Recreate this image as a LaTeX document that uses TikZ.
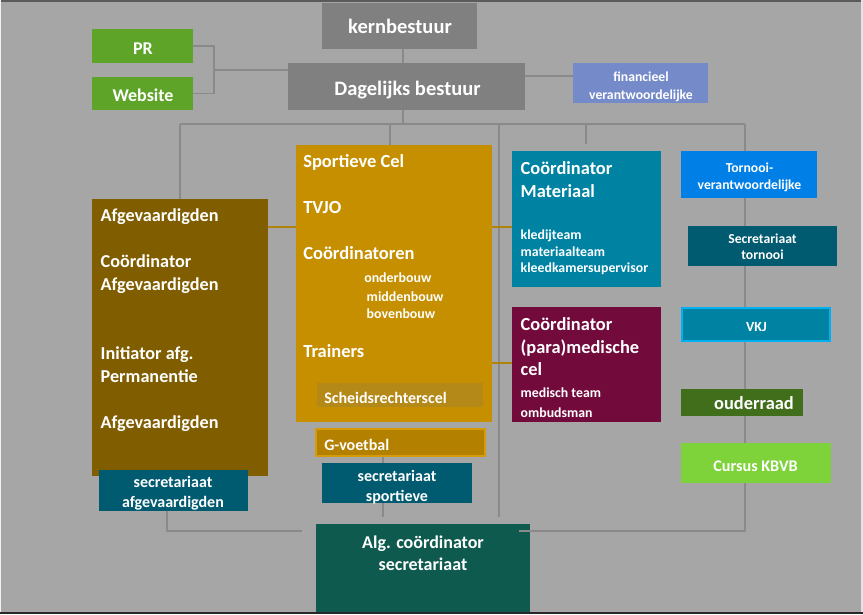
\documentclass[tikz,border=0pt]{standalone}
\usepackage{fontspec}
\setmainfont{Carlito}
\usetikzlibrary{calc}
\definecolor{bg}{RGB}{166,166,166}
\definecolor{topline}{RGB}{90,90,90}
\definecolor{botline}{RGB}{40,40,40}
\definecolor{grayb}{RGB}{128,128,128}
\definecolor{greenb}{RGB}{94,164,40}
\definecolor{finb}{RGB}{117,138,200}
\definecolor{sportb}{RGB}{197,143,0}
\definecolor{afgb}{RGB}{128,94,0}
\definecolor{scheidsb}{RGB}{180,137,24}
\definecolor{gvb}{RGB}{179,128,0}
\definecolor{gvborder}{RGB}{214,155,10}
\definecolor{matb}{RGB}{0,131,163}
\definecolor{medb}{RGB}{115,10,60}
\definecolor{tornb}{RGB}{0,128,230}
\definecolor{secb}{RGB}{0,90,112}
\definecolor{vkjborder}{RGB}{0,176,240}
\definecolor{ouderb}{RGB}{64,110,27}
\definecolor{cursusb}{RGB}{126,210,58}
\definecolor{algb}{RGB}{14,90,78}
\definecolor{linegray}{RGB}{138,138,138}
\definecolor{goldline}{RGB}{176,131,10}
\newcommand{\myfs}[1]{\fontsize{#1}{#1}\selectfont\bfseries}
\newcommand{\mybox}[7][]{\node[box, fill=#7, minimum width={(#4-#2)*1pt}, minimum height={(#5-#3)*1pt}, #1] (#6) at ({(#2+#4)/2},{(#3+#5)/2}) {};}
\newcommand{\tl}[6]{\node[lbl, anchor=#2, yshift={-0.15*#5 pt}, font=\myfs{#5}] (#1) at (#3,#4) {#6};}
\begin{document}
\begin{tikzpicture}[x=1pt,y=-1pt,
  box/.style={rectangle, inner sep=0pt, outer sep=0pt, draw=none},
  conn/.style={draw=linegray, line width=1.2pt},
  goldconn/.style={draw=goldline, line width=2pt},
  lbl/.style={text=white, inner sep=0pt, outer sep=0pt}]
\useasboundingbox (0,0) rectangle (863,614);
\fill[bg] (0,0) rectangle (863,614);
\fill[topline] (0,0) rectangle (863,2);
\fill[botline] (0,612) rectangle (863,614);
\fill[white!85!bg] (0,0) rectangle (1.2,612);
\fill[white!70!bg] (861,0) rectangle (863,612);

% connector coordinates
\coordinate (brk) at (214,70);
\coordinate (busL) at (180,124);
\coordinate (busR) at (745,124);
\coordinate (busM) at (403,124);
\coordinate (botL) at (302,531);
\coordinate (botR) at (745,531);
\coordinate (botRend) at (519,531);
\coordinate (vmid) at (499,517);
\coordinate (vgv) at (383,517);

% boxes
\mybox{322}{3}{477}{49}{kern}{grayb}
\mybox{288}{63}{525}{110}{dag}{grayb}
\mybox{92}{29}{193}{63}{pr}{greenb}
\mybox{92}{77}{193}{110}{web}{greenb}
\mybox{573}{63}{708}{103}{fin}{finb}

% gray connectors (behind boxes)
\draw[conn] ([xshift=3.5pt]kern.south) -- ([xshift=3.5pt]kern.south |- dag.north);
\draw[conn] (pr.east) -| (brk) |- (web.east);
\draw[conn] (brk) -- (brk -| dag.west);
\draw[conn] (dag.east |- 0,76) -- (fin.west |- 0,76);
\draw[conn] (busM |- dag.south) -- (busM);
\draw[conn] (busL) -- (busR);
\draw[conn] (busL) -- (180,199);
\draw[conn] (390,124) -- (390,145);
\draw[conn] (499,124) -- (vmid);
\draw[conn] (586,124) -- (586,144);
\draw[conn] (busR) -- (botR) -- (botRend);
\draw[conn] (167,511) -- (167,531) -- (botL);
\draw[conn] (383,457) -- (vgv);

\mybox{296}{145}{492}{422}{sport}{sportb}
\mybox{92}{199}{268}{476}{afg}{afgb}
\mybox{512}{151}{661}{287}{mat}{matb}
\mybox{512}{307}{661}{422}{med}{medb}
\mybox{681}{151}{817}{198}{torn}{tornb}
\mybox{688}{226}{837}{266}{sectorn}{secb}
\mybox[draw=vkjborder, line width=2pt]{682}{308}{830}{341}{vkj}{matb}
\mybox{681}{389}{803}{416}{ouder}{ouderb}
\mybox{681}{443}{831}{483}{cursus}{cursusb}
\mybox{317}{383}{483}{407}{scheids}{scheidsb}
\mybox[draw=gvborder, line width=1.5pt]{316}{429}{485}{456}{gvoet}{gvb}
\mybox{322}{463}{472}{503}{secsport}{secb}
\mybox{99}{470}{248}{511}{secafg}{secb}
\mybox{316}{524}{530}{612}{alg}{algb}
\draw[conn] (botRend) -- ++(11,0);

% gold connectors
\draw[goldconn] (afg.east |- 0,227) -- (sport.west |- 0,227);
\draw[goldconn] (sport.east |- 0,227) -- (mat.west |- 0,227);
\draw[goldconn] (sport.east |- 0,363) -- (med.west |- 0,363);

% labels
\tl{tkern}{mid}{400}{28}{20.5}{kernbestuur}
\tl{tdag}{mid}{407.5}{89.7}{20.5}{Dagelijks bestuur}
\tl{tpr}{mid}{143}{49}{18}{PR}
\tl{tweb}{mid}{143}{96.5}{18}{Website}
\tl{tfin1}{mid}{641}{76.8}{13.7}{financieel}
\tl{tfin2}{mid}{641}{94.8}{13.7}{verantwoordelijke}
\tl{ttorn1}{mid}{749.5}{168.5}{13.7}{Tornooi-}
\tl{ttorn2}{mid}{749.5}{185}{13.7}{verantwoordelijke}
\tl{tst1}{mid}{762.5}{239}{13.7}{Secretariaat}
\tl{tst2}{mid}{762.5}{255}{13.7}{tornooi}
\tl{tvkj}{mid}{756.5}{327.5}{14}{VKJ}
\tl{touder}{mid}{754}{404}{18.4}{ouderraad}
\tl{tcursus}{mid}{755.5}{466.2}{16.2}{Cursus KBVB}
\tl{tss1}{mid}{397}{476.3}{16}{secretariaat}
\tl{tss2}{mid}{397}{496.3}{16}{sportieve}
\tl{tsa1}{mid}{173}{483}{16}{secretariaat}
\tl{tsa2}{mid}{173}{503}{16}{afgevaardigden}
\tl{talg1}{mid}{423}{543}{18}{Alg. coördinator}
\tl{talg2}{mid}{423}{565.8}{18}{secretariaat}

\tl{tsp1}{mid west}{303.3}{162.4}{18.5}{Sportieve Cel}
\tl{tsp2}{mid west}{303.3}{208.4}{18.5}{TVJO}
\tl{tsp3}{mid west}{303.3}{254.7}{18.5}{Coördinatoren}
\tl{tsp4}{mid west}{364.3}{278.5}{13.9}{onderbouw}
\tl{tsp5}{mid west}{366.7}{297.5}{13.9}{middenbouw}
\tl{tsp6}{mid west}{366.7}{314}{13.9}{bovenbouw}
\tl{tsp7}{mid west}{303.3}{352.4}{18.5}{Trainers}
\tl{tscheids}{mid west}{324.3}{399}{16}{Scheidsrechterscel}
\tl{tgv}{mid west}{324.3}{445.6}{16}{G-voetbal}

\tl{tafg1}{mid west}{100.7}{216.8}{18.2}{Afgevaardigden}
\tl{tafg2}{mid west}{100.7}{262.4}{18.2}{Coördinator}
\tl{tafg3}{mid west}{100.7}{285.8}{18.2}{Afgevaardigden}
\tl{tafg4}{mid west}{100.7}{354.8}{18.2}{Initiator afg.}
\tl{tafg5}{mid west}{100.7}{377.4}{18.2}{Permanentie}
\tl{tafg6}{mid west}{100.7}{423}{18.2}{Afgevaardigden}

\tl{tmat1}{mid west}{520.7}{169.7}{18.4}{Coördinator}
\tl{tmat2}{mid west}{520.7}{192.4}{18.4}{Materiaal}
\tl{tmat3}{mid west}{520.7}{234.8}{13.8}{kledijteam}
\tl{tmat4}{mid west}{520.7}{251.8}{13.8}{materiaalteam}
\tl{tmat5}{mid west}{520.7}{268.5}{13.8}{kleedkamersupervisor}

\tl{tmed1}{mid west}{520.7}{325}{18.4}{Coördinator}
\tl{tmed2}{mid west}{520.7}{348.4}{18.4}{(para)medische}
\tl{tmed3}{mid west}{520.7}{370.7}{18.4}{cel}
\tl{tmed4}{mid west}{520.7}{393.5}{13.8}{medisch team}
\tl{tmed5}{mid west}{520.7}{413.5}{13.8}{ombudsman}
\end{tikzpicture}
\end{document}
